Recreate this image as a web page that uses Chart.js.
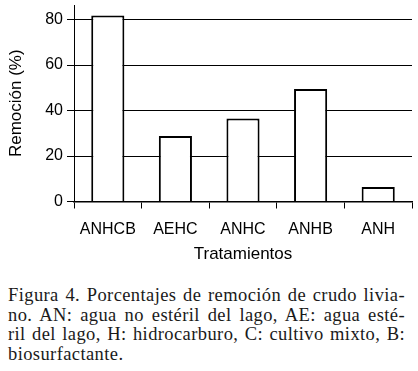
<!DOCTYPE html>
<html>
<head>
<meta charset="utf-8">
<script src="https://cdn.jsdelivr.net/npm/chart.js@4/dist/chart.umd.min.js"></script>
<style>
  html, body { margin: 0; padding: 0; background: #fff; }
  #wrap { position: relative; width: 418px; height: 371px; }
  #chartBox { position: absolute; left: 0; top: 0; width: 418px; height: 270px; }
  #caption {
    position: absolute; left: 8px; top: 286px; width: 397px;
    font-family: "Liberation Serif", "Times New Roman", serif;
    font-size: 18.5px; line-height: 19.5px; color: #1a1a1a;
    letter-spacing: 0.4px;
  }
  #caption div { text-align: justify; text-align-last: justify; white-space: nowrap; }
  #caption div.last { text-align-last: left; }
</style>
</head>
<body>
<div id="wrap">
  <div id="chartBox"><canvas id="chart"></canvas></div>
  <div id="caption">
    <div>Figura 4. Porcentajes de remoción de crudo livia-</div>
    <div>no. AN: agua no estéril del lago, AE: agua esté-</div>
    <div>ril del lago, H: hidrocarburo, C: cultivo mixto, B:</div>
    <div class="last">biosurfactante.</div>
  </div>
</div>
<script>
// data
var treatments = ["ANHCB", "AEHC", "ANHC", "ANHB", "ANH"];
var removal = [81.8, 28.8, 36.5, 49.5, 6.4];
var yTicks = [0, 20, 40, 60, 80];

var ctx = document.getElementById("chart");

var chart = new Chart(ctx, {
    type: "bar",
    data: {
        labels: treatments,
        datasets: [
            {
                data: removal,
                backgroundColor: "#ffffff",
                borderColor: "#000000",
                borderWidth: 2,
                borderSkipped: "start",
                categoryPercentage: 1,
                barPercentage: 0.49
            }
        ]
    },
    options: {
        responsive: true,
        maintainAspectRatio: false,
        animation: false,
        layout: {
            padding: { left: 0, right: 6, top: 5, bottom: 0 }
        },
        plugins: {
            legend: { display: false },
            tooltip: { enabled: false }
        },
        scales: {
            x: {
                grid: {
                    offset: true,
                    drawOnChartArea: false,
                    drawTicks: true,
                    tickLength: 7,
                    color: "#000",
                    lineWidth: 1
                },
                border: { display: true, color: "#000", width: 1.5 },
                ticks: {
                    color: "#000",
                    padding: 11,
                    maxRotation: 0,
                    font: { family: "Liberation Sans", size: 16 }
                },
                title: {
                    display: true,
                    text: "Tratamientos",
                    color: "#000",
                    font: { family: "Liberation Sans", size: 17 },
                    padding: { top: 0, bottom: 5 }
                },
                afterFit: function (scale) {
                    scale.height = 270 - 201.5;
                    scale.paddingLeft = 0;
                    scale.paddingRight = 0;
                }
            },
            y: {
                min: 0,
                max: 86.4,
                afterBuildTicks: function (scale) {
                    scale.ticks = yTicks.map(function (v) { return { value: v }; });
                },
                grid: {
                    drawOnChartArea: true,
                    drawTicks: true,
                    tickLength: 7,
                    color: "#000",
                    lineWidth: 1
                },
                border: { display: true, color: "#000", width: 1 },
                ticks: {
                    color: "#000",
                    padding: 4,
                    font: { family: "Liberation Sans", size: 16 }
                },
                title: {
                    display: true,
                    text: "Remoción (%)",
                    color: "#000",
                    font: { family: "Liberation Sans", size: 17 },
                    padding: { top: 6, bottom: 0 }
                },
                afterFit: function (scale) {
                    scale.width = 74;
                    scale.paddingTop = 0;
                    scale.paddingBottom = 0;
                }
            }
        }
    }
});
</script>
</body>
</html>
